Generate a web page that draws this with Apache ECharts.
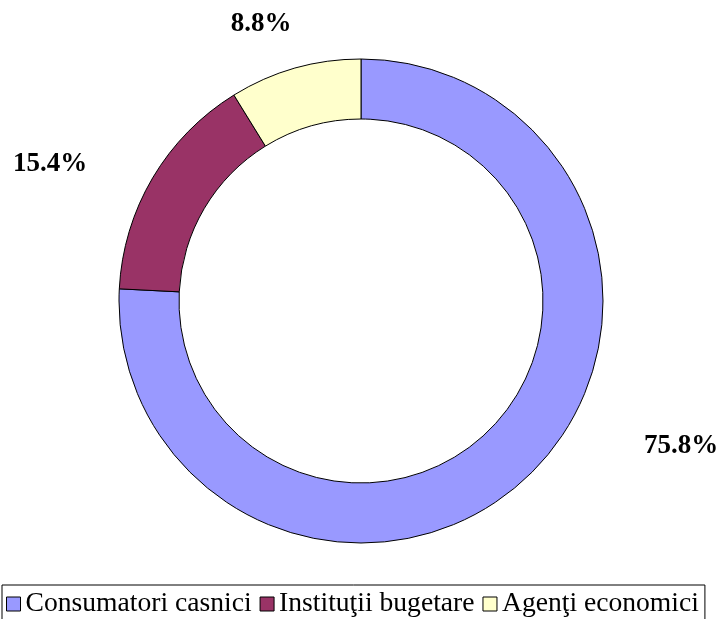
<!DOCTYPE html>
<html><head><meta charset="utf-8">
<script src="https://cdn.jsdelivr.net/npm/echarts@6/dist/echarts.min.js"></script>
<style>html,body{margin:0;padding:0;background:#fff}#c{width:726px;height:619px}</style>
</head><body><div id="c"></div>
<script>
const categories = ['Consumatori casnici', 'Instituţii bugetare', 'Agenţi economici'];
const values = [75.8, 15.4, 8.8];
const colors = ['#9999FF', '#993366', '#FFFFCC'];
const labelPos = [[681, 446], [50, 164], [261, 24]];

const chart = echarts.init(document.getElementById('c'), null, {renderer: 'canvas'});
chart.setOption({
  animation: false,
  legend: {
    data: categories,
    left: 2, top: 585,
    padding: [5, 6, 12, 4],
    itemGap: 8,
    itemWidth: 14, itemHeight: 14,
    icon: 'rect',
    borderColor: '#000', borderWidth: 1,
    itemStyle: {borderColor: '#000', borderWidth: 1},
    textStyle: {fontFamily: 'Liberation Serif', fontSize: 27.6, color: '#000'}
  },
  series: [{
    type: 'pie',
    center: [361, 301],
    radius: [182, 242],
    startAngle: 90,
    clockwise: true,
    data: categories.map((n, i) => ({name: n, value: values[i], itemStyle: {color: colors[i]}})),
    itemStyle: {borderColor: '#000', borderWidth: 1},
    label: {
      show: true,
      position: 'outside',
      formatter: p => p.value.toFixed(1) + '%',
      fontFamily: 'Liberation Serif', fontWeight: 'bold', fontSize: 27, color: '#000'
    },
    labelLine: {show: false},
    labelLayout: p => ({x: labelPos[p.dataIndex][0], y: labelPos[p.dataIndex][1], align: 'center', verticalAlign: 'middle'}),
    emphasis: {disabled: true}
  }]
});
</script></body></html>
